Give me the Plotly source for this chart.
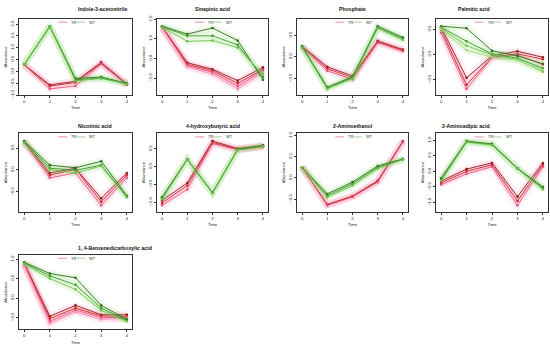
import plotly.graph_objects as go

time = [0, 1, 2, 3, 4]
titles = ["Indole-3-acetonitrile", "Sinapinic acid", "Phosphate", "Palmitic acid",
          "Nicotinic acid", "4-hydroxybutyric acid", "2-Aminoethanol", "2-Aminoadipic acid",
          "1, 4-Benzenedicarboxylic acid"]

indole_TR = [[0.28, -0.57, -0.42, 0.38, -0.52],
             [0.28, -0.62, -0.47, 0.33, -0.55],
             [0.28, -0.74, -0.62, 0.31, -0.57]]
indole_WT = [[0.28, 1.91, -0.30, -0.24, -0.50],
             [0.28, 1.88, -0.36, -0.28, -0.54],
             [0.28, 1.90, -0.40, -0.30, -0.52]]

sinapinic_TR = [[1.62, -0.22, -0.55, -1.13, -0.45],
                [1.60, -0.30, -0.62, -1.27, -0.55],
                [1.58, -0.36, -0.70, -1.42, -0.62],
                [1.56, -0.42, -0.80, -1.55, -0.72]]
sinapinic_WT = [[1.64, 1.24, 1.55, 0.91, -1.09],
                [1.62, 1.15, 1.15, 0.69, -0.95],
                [1.60, 0.87, 0.91, 0.55, -0.82]]

phosphate_TR = [[0.25, -0.23, -0.44, 0.37, 0.17],
                [0.23, -0.27, -0.48, 0.35, 0.15],
                [0.22, -0.32, -0.52, 0.33, 0.13]]
phosphate_WT = [[0.25, -0.70, -0.46, 0.71, 0.45],
                [0.23, -0.72, -0.48, 0.68, 0.42],
                [0.22, -0.74, -0.50, 0.66, 0.39]]

palmitic_TR = [[0.54, -0.47, -0.03, 0.06, -0.06],
               [0.49, -0.61, -0.06, 0.01, -0.10],
               [0.43, -0.69, -0.07, -0.01, -0.21]]
palmitic_WT = [[0.56, 0.52, 0.07, -0.03, -0.19],
               [0.54, 0.26, 0.01, -0.08, -0.28],
               [0.52, 0.17, -0.01, -0.10, -0.35],
               [0.50, 0.08, -0.06, -0.12, -0.31]]

nicotinic_TR = [[0.66, -0.07, 0.04, -0.65, -0.07],
                [0.64, -0.12, 0.02, -0.73, -0.12],
                [0.62, -0.18, -0.07, -0.81, -0.18]]
nicotinic_WT = [[0.66, 0.11, 0.05, 0.20, -0.59],
                [0.64, 0.04, -0.01, 0.11, -0.61],
                [0.62, 0.01, -0.07, 0.09, -0.63]]

hydroxybutyric_TR = [[-0.95, -0.46, 0.72, 0.51, 0.60],
                     [-1.02, -0.53, 0.68, 0.49, 0.57],
                     [-1.09, -0.64, 0.65, 0.47, 0.55]]
hydroxybutyric_WT = [[-0.86, 0.21, -0.73, 0.49, 0.59],
                     [-0.89, 0.20, -0.74, 0.48, 0.58],
                     [-0.92, 0.19, -0.75, 0.47, 0.57]]

aminoethanol_TR = [[0.25, -0.63, -0.43, -0.07, 0.87],
                   [0.25, -0.64, -0.44, -0.08, 0.86],
                   [0.25, -0.65, -0.45, -0.10, 0.85]]
aminoethanol_WT = [[0.25, -0.38, -0.10, 0.28, 0.45],
                   [0.25, -0.42, -0.14, 0.25, 0.44],
                   [0.25, -0.46, -0.18, 0.22, 0.43]]

aminoadipic_TR = [[-0.31, 0.07, 0.27, -0.81, 0.27],
                  [-0.37, 0.00, 0.21, -0.95, 0.21],
                  [-0.43, -0.08, 0.15, -1.09, 0.15]]
aminoadipic_WT = [[-0.22, 0.97, 0.88, 0.10, -0.50],
                  [-0.27, 0.95, 0.86, 0.09, -0.54],
                  [-0.31, 0.93, 0.84, 0.08, -0.58]]

benzene_TR = [[0.90, -0.47, -0.19, -0.43, -0.43],
              [0.88, -0.53, -0.26, -0.46, -0.47],
              [0.86, -0.60, -0.31, -0.50, -0.50],
              [0.84, -0.65, -0.36, -0.55, -0.52]]
benzene_WT = [[0.92, 0.63, 0.52, -0.19, -0.55],
              [0.90, 0.57, 0.34, -0.26, -0.58],
              [0.88, 0.50, 0.22, -0.32, -0.60]]

panels = [(indole_TR, indole_WT), (sinapinic_TR, sinapinic_WT), (phosphate_TR, phosphate_WT),
          (palmitic_TR, palmitic_WT), (nicotinic_TR, nicotinic_WT),
          (hydroxybutyric_TR, hydroxybutyric_WT), (aminoethanol_TR, aminoethanol_WT),
          (aminoadipic_TR, aminoadipic_WT), (benzene_TR, benzene_WT)]
tick_steps = [0.5, 1.0, 0.5, 0.5, 0.5, 0.5, 0.5, 0.5, 0.5]

TR_colors = ["#8B1A1A", "#CD2626", "#E8557A", "#F48FB1"]
WT_colors = ["#2E6B1F", "#3A9A2A", "#6CC24A", "#A2D97F"]

W, H = 550, 352
cols_px = [(19, 132), (157, 268), (297, 408), (436, 548)]
rows_px = [(15, 93), (132, 212), (256, 332)]
title_px = [5, 124, 249]

FONT = "Liberation Sans"
fig = go.Figure()
annotations = []
shapes = []

for i, (tr, wt) in enumerate(panels):
    r, c = divmod(i, 4)
    x0, x1 = cols_px[c]
    y0, y1 = rows_px[r]
    n = i + 1
    xa = "x" if n == 1 else f"x{n}"
    ya = "y" if n == 1 else f"y{n}"
    for grp, colors, halo in ((tr, TR_colors, "rgba(255,105,160,0.12)"),
                              (wt, WT_colors, "rgba(120,210,90,0.12)")):
        for k, vals in enumerate(grp):
            fig.add_trace(go.Scatter(x=time, y=vals, mode="lines", xaxis=xa, yaxis=ya,
                                     line=dict(color=halo, width=7), hoverinfo="skip",
                                     showlegend=False))
        for k, vals in enumerate(grp):
            col = colors[k % len(colors)]
            fig.add_trace(go.Scatter(x=time, y=vals, mode="lines+markers", xaxis=xa, yaxis=ya,
                                     line=dict(color=col, width=0.9),
                                     marker=dict(color=col, size=2.6),
                                     showlegend=False))
    allv = [v for row in tr + wt for v in row]
    lo, hi = min(allv), max(allv)
    span = hi - lo
    yr = [lo - 0.1 * span, hi + 0.12 * span]
    axis_common = dict(showline=True, mirror=True, linecolor="#333", linewidth=0.7,
                       ticks="outside", ticklen=2, tickwidth=0.6, tickcolor="#333",
                       showgrid=False, zeroline=False,
                       tickfont=dict(size=4.2, family=FONT, color="#222"))
    fig.layout[("xaxis" if n == 1 else f"xaxis{n}")] = dict(
        domain=[x0 / W, x1 / W], anchor=ya, range=[-0.2, 4.2], tickvals=time,
        title=dict(text="Time", font=dict(size=4.2, family=FONT, color="#222"), standoff=3),
        **axis_common)
    fig.layout[("yaxis" if n == 1 else f"yaxis{n}")] = dict(
        domain=[1 - y1 / H, 1 - y0 / H], anchor=xa, range=yr, dtick=tick_steps[i],
        tickformat=".1f", tickangle=-90,
        title=dict(text="Abundance", font=dict(size=4.2, family=FONT, color="#222"), standoff=2),
        **axis_common)
    annotations.append(dict(text=f"<b>{titles[i]}</b>", x=(x0 + x1) / 2 / W,
                            y=1 - title_px[r] / H,
                            xref="paper", yref="paper", showarrow=False, yanchor="middle",
                            font=dict(size=5.2, family=FONT, color="#111")))
    ly = 0.955
    for (a, b, tx, lab, colr) in ((0.345, 0.425, 0.445, "TR", "#D0607A"),
                                  (0.51, 0.585, 0.605, "WT", "#7DBF6A")):
        shapes.append(dict(type="line", xref=f"{xa} domain", yref=f"{ya} domain",
                           x0=a, x1=b, y0=ly, y1=ly, line=dict(color=colr, width=0.7)))
        annotations.append(dict(text=lab, xref=f"{xa} domain", yref=f"{ya} domain",
                                x=tx, y=ly, xanchor="left", yanchor="middle", showarrow=False,
                                font=dict(size=4, family=FONT, color="#333")))

fig.update_layout(width=W, height=H, margin=dict(l=0, r=0, t=0, b=0),
                  paper_bgcolor="white", plot_bgcolor="white", showlegend=False,
                  annotations=annotations, shapes=shapes)
fig.write_html("out.html", config={"displayModeBar": False},
               post_script="document.body.style.margin='0';")
